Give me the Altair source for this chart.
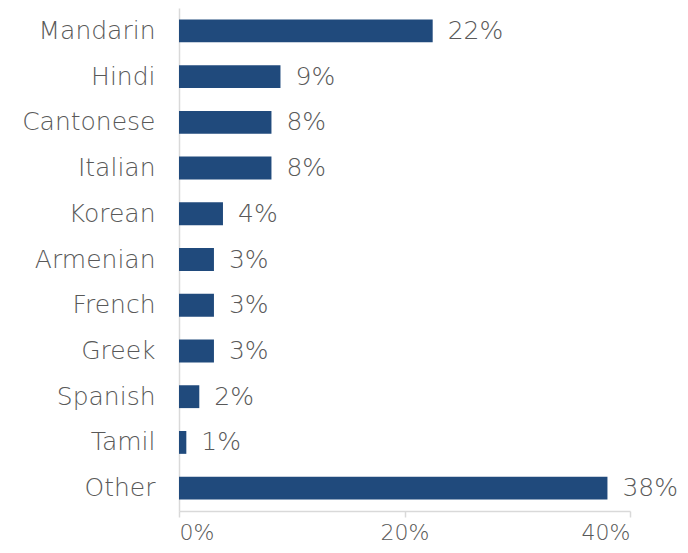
import altair as alt
import pandas as pd

languages = ["Mandarin", "Hindi", "Cantonese", "Italian", "Korean", "Armenian",
             "French", "Greek", "Spanish", "Tamil", "Other"]
shares = [0.225, 0.090, 0.082, 0.082, 0.039, 0.031, 0.031, 0.031, 0.018, 0.0065, 0.380]
labels = ["22%", "9%", "8%", "8%", "4%", "3%", "3%", "3%", "2%", "1%", "38%"]

df = pd.DataFrame({"language": languages, "share": shares, "label": labels})

FONT = "DejaVu Sans"
GRAY = "#595959"
SIZE = 25

y = alt.Y("language:N", sort=languages, title=None,
          scale=alt.Scale(paddingInner=0.5, paddingOuter=0.25),
          axis=alt.Axis(domainColor="#d9d9d9", domainWidth=1.5, ticks=False,
                        labelFontSize=SIZE, labelColor=GRAY, labelFont=FONT,
                        labelFontWeight=300, labelPadding=24))
x = alt.X("share:Q", title=None,
          scale=alt.Scale(domain=[0, 0.4], nice=False),
          axis=alt.Axis(format=".0%", values=[0, 0.2, 0.4], grid=False,
                        domainColor="#d9d9d9", domainWidth=1.5,
                        tickColor="#d9d9d9", tickWidth=1.5, tickSize=6,
                        labelFontSize=22, labelColor=GRAY, labelFont=FONT,
                        labelFontWeight=300, labelPadding=5))

bars = alt.Chart(df).mark_bar(color="#204A7C").encode(x=x, y=y)
text = alt.Chart(df).mark_text(align="left", baseline="middle", dx=15,
                               fontSize=SIZE, color=GRAY, font=FONT,
                               fontWeight=300).encode(
    x=alt.X("share:Q"), y=alt.Y("language:N", sort=languages), text="label:N")

chart = (bars + text).properties(
    width=451, height=503,
    background="white",
    autosize=alt.AutoSizeParams(type="none"),
    padding={"left": 171, "top": 0, "right": 50, "bottom": 34},
).configure_view(strokeOpacity=0, strokeWidth=0)

chart.save("out.html", embed_options={"renderer": "svg", "actions": False})
